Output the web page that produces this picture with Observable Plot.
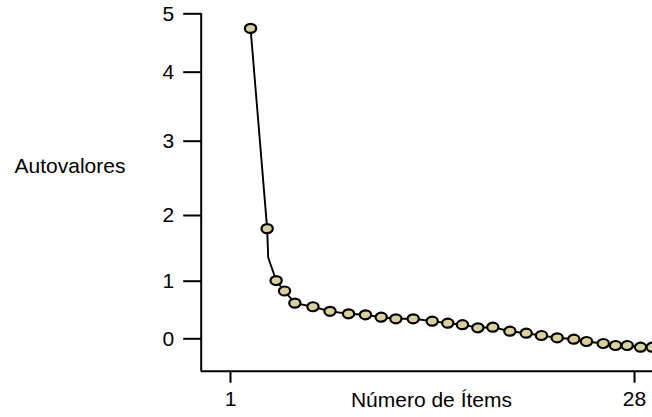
<!DOCTYPE html>
<html>
<head>
<meta charset="utf-8">
<script src="https://cdn.jsdelivr.net/npm/d3@7"></script>
<script src="https://cdn.jsdelivr.net/npm/@observablehq/plot@0.6"></script>
<style>
  html, body { margin: 0; padding: 0; background: #fff; overflow: hidden; }
</style>
</head>
<body>
<div id="chart"></div>
<script>
// Item positions along the x axis (in item units) and eigenvalues
const itemPos = [2.34, 3.45, 4.05, 4.61, 5.30, 6.51, 7.65, 8.89, 10.02, 11.07,
                 12.05, 13.21, 14.48, 15.52, 16.50, 17.53, 18.53, 19.67, 20.76, 21.78,
                 22.83, 23.94, 24.79, 25.91, 26.73, 27.51, 28.40, 29.18];
const itemVal = [4.75, 1.80, 1.01, 0.83, 0.62, 0.556, 0.477, 0.434, 0.417, 0.375,
                 0.347, 0.347, 0.306, 0.271, 0.245, 0.191, 0.201, 0.132, 0.097, 0.057,
                 0.017, -0.007, -0.047, -0.082, -0.116, -0.116, -0.146, -0.146];
// Bend of the line with no marker
const bendPos = [3.52];
const bendVal = [1.36];

const yTicks = [0, 1, 2, 3, 4, 5];
const xTicks = [1, 28];
const yLabel = "Autovalores";
const xLabel = "Número de Ítems";

const points = itemPos.map((x, i) => ({x, y: itemVal[i]}));
const lineData = points.concat(bendPos.map((x, i) => ({x, y: bendVal[i]})))
  .sort((a, b) => a.x - b.x);

const ellipse = {
  draw(ctx, size) {
    const r = Math.sqrt(size / Math.PI);
    const rx = r * 1.13, ry = r * 0.9, k = 0.5523;
    ctx.moveTo(rx, 0);
    ctx.bezierCurveTo(rx, ry * k, rx * k, ry, 0, ry);
    ctx.bezierCurveTo(-rx * k, ry, -rx, ry * k, -rx, 0);
    ctx.bezierCurveTo(-rx, -ry * k, -rx * k, -ry, 0, -ry);
    ctx.bezierCurveTo(rx * k, -ry, rx, -ry * k, rx, 0);
    ctx.closePath();
  }
};
// horizontal tick glyph for the y axis
const hline = {
  draw(ctx, size) {
    const r = Math.sqrt(size / Math.PI);
    ctx.moveTo(-r, 0);
    ctx.lineTo(r, 0);
  }
};

const xMin = -0.958, xMax = 29.2;
const yMin = -0.5625;
// The original axis has uneven spacing between its ticks: a piecewise
// transform of the y scale reproduces it (units: height above the x axis)
const yWarp = d3.scaleLinear()
  .domain([yMin, 0, 1, 2, 3, 4, 5])
  .range([0, 32.4, 90, 155.7, 230, 299, 357.4]);

const chart = Plot.plot({
  width: 652,
  height: 417,
  marginLeft: 200.7,
  marginRight: 0,
  marginTop: 0,
  marginBottom: 46.3,
  style: {
    fontFamily: "'Liberation Sans', Arial, Helvetica, sans-serif",
    fontSize: "21px",
    color: "#000",
    background: "#fff",
    overflow: "hidden"
  },
  x: {domain: [xMin, xMax]},
  y: {transform: yWarp, domain: [0, 370.7], axis: null},
  marks: [
    Plot.ruleX([xMin], {y1: yMin, y2: 5, stroke: "#000", strokeWidth: 2}),
    Plot.ruleY([yMin], {stroke: "#000", strokeWidth: 2}),
    // y axis ticks and labels
    Plot.dot(yTicks, {y: d => d, frameAnchor: "left", dx: -9, r: 9, symbol: hline, fill: "none", stroke: "#000", strokeWidth: 2}),
    Plot.text(yTicks, {y: d => d, text: d => String(d), frameAnchor: "left", textAnchor: "end", dx: -27, fontSize: 21}),
    Plot.axisX({ticks: xTicks, tickSize: 12, tickPadding: 8, label: null, strokeWidth: 2, fontSize: 21}),
    Plot.line(lineData, {x: "x", y: "y", stroke: "#000", strokeWidth: 1.9}),
    Plot.dot(points, {x: "x", y: "y", symbol: ellipse, r: 5, fill: "#d8d19b", stroke: "#000", strokeWidth: 2.2}),
    Plot.text([yLabel], {text: d => d, frameAnchor: "left", textAnchor: "start", dx: -186.7, dy: -20, fontSize: 21}),
    Plot.text([xLabel], {text: d => d, frameAnchor: "bottom", lineAnchor: "bottom", dx: 4.6, dy: 36, fontSize: 21})
  ]
});
document.getElementById("chart").appendChild(chart);
</script>
</body>
</html>
